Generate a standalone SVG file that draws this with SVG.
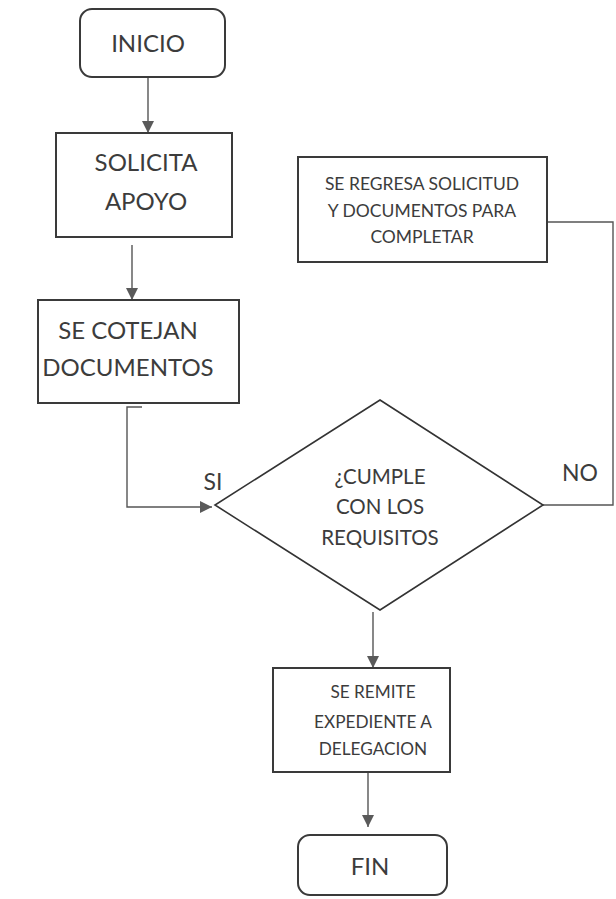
<svg xmlns="http://www.w3.org/2000/svg" width="616" height="899" viewBox="0 0 616 899">
<style>
.box{fill:#fff;stroke:#3a3a3a;stroke-width:2}
.dia{fill:#fff;stroke:#333;stroke-width:1.6}
.t{font-family:Lato,"Open Sans",sans-serif;fill:#3c3c3c;text-anchor:middle}
.c{fill:none;stroke:#555;stroke-width:1.4}
</style>
<defs>
<marker id="ah" viewBox="0 0 12 12" refX="12" refY="6" markerWidth="12" markerHeight="12" markerUnits="userSpaceOnUse" orient="auto">
<path d="M0,0 L12,6 L0,12 Z" fill="#5a5a5a"/>
</marker>
</defs>
<rect width="616" height="899" fill="#fff"/>
<g id="connectors">
<path class="c" d="M148,77 V133" marker-end="url(#ah)"/>
<path class="c" d="M132,245 V300" marker-end="url(#ah)"/>
<path class="c" d="M142,407 H127 V507 H212" marker-end="url(#ah)"/>
<path class="c" d="M543,505 H613 V222 H528" marker-end="url(#ah)"/>
<path class="c" d="M373,612 V668" marker-end="url(#ah)"/>
<path class="c" d="M368,772 V827" marker-end="url(#ah)"/>
</g>
<g id="inicio">
<rect class="box" x="80" y="9" width="145" height="68" rx="12"/>
<text class="t" x="148" y="52" font-size="24">INICIO</text>
</g>
<g id="solicita">
<rect class="box" x="56" y="133" width="176" height="104"/>
<text class="t" x="146" y="171" font-size="24">SOLICITA</text>
<text class="t" x="146" y="210" font-size="24">APOYO</text>
</g>
<g id="cotejan">
<rect class="box" x="38" y="300" width="201" height="103"/>
<text class="t" x="128" y="339" font-size="24">SE COTEJAN</text>
<text class="t" x="128" y="376" font-size="24">DOCUMENTOS</text>
</g>
<g id="decision">
<polygon class="dia" points="380,400 543,505 380,610 215,505"/>
<text class="t" x="380" y="484" font-size="20.5">¿CUMPLE</text>
<text class="t" x="380" y="514" font-size="20.5">CON LOS</text>
<text class="t" x="380" y="545" font-size="20.5">REQUISITOS</text>
</g>
<g id="labels">
<text class="t" x="213" y="490" font-size="23">SI</text>
<text class="t" x="580" y="481" font-size="23">NO</text>
</g>
<g id="regresa">
<rect class="box" x="298" y="157" width="249" height="105"/>
<text class="t" x="422" y="190" font-size="17.5">SE REGRESA SOLICITUD</text>
<text class="t" x="422" y="217" font-size="17.5">Y DOCUMENTOS PARA</text>
<text class="t" x="422" y="243" font-size="17.5">COMPLETAR</text>
</g>
<g id="remite">
<rect class="box" x="273" y="668" width="177" height="104"/>
<text class="t" x="373" y="698" font-size="17.2">SE REMITE</text>
<text class="t" x="373" y="728" font-size="17.2">EXPEDIENTE A</text>
<text class="t" x="373" y="755" font-size="17.2">DELEGACION</text>
</g>
<g id="fin">
<rect class="box" x="298" y="835" width="149" height="60" rx="12"/>
<text class="t" x="370" y="875" font-size="24">FIN</text>
</g>
</svg>
